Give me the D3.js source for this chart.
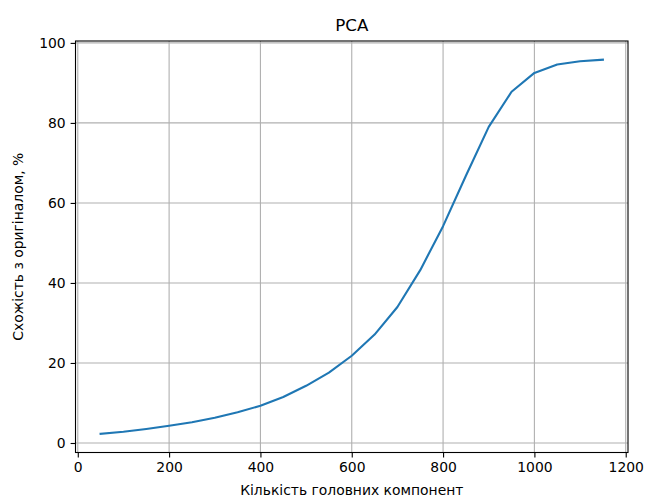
<!DOCTYPE html>
<html>
<head>
<meta charset="utf-8">
<script src="https://cdn.jsdelivr.net/npm/d3@7"></script>
<style>
  body { margin: 0; background: #fff; }
  text { font-family: "DejaVu Sans", sans-serif; fill: #000; }
</style>
</head>
<body>
<script>
// number of principal components vs similarity to original (%)
var components = [50, 100, 150, 200, 250, 300, 350, 400, 450, 500, 550, 600,
                  650, 700, 750, 800, 850, 900, 950, 1000, 1050, 1100, 1150];
var similarity = [2.3, 2.8, 3.5, 4.3, 5.2, 6.3, 7.7, 9.3, 11.5, 14.3, 17.6, 21.8,
                  27.1, 34.0, 43.2, 54.2, 66.8, 79.0, 87.8, 92.5, 94.6, 95.4, 95.8];
var xTicks = [0, 200, 400, 600, 800, 1000, 1200];
var yTicks = [0, 20, 40, 60, 80, 100];

// note: "top" is taken by window.top, so plot edges get their own names
var w = 646, h = 498,
	pLeft = 75.5, pRight = 628, pTop = 41, pBottom = 452.5;

var data = components.map(function(c, i) { return { x: c, y: similarity[i] }; });

// matplotlib style 5% margins
function padded(ext) {
	var m = (ext[1] - ext[0]) * 0.05;
	return [ext[0] - m, ext[1] + m];
}

var x = d3.scaleLinear().domain(padded(d3.extent(components))).range([pLeft, pRight]);
var y = d3.scaleLinear().domain(padded(d3.extent(similarity))).range([pBottom, pTop]);

var svg = d3.select('body').append('svg')
	.attr('width', w)
	.attr('height', h);

// grid
svg.append('g').selectAll('line').data(xTicks).enter().append('line')
	.attr('x1', function(d) { return x(d); }).attr('x2', function(d) { return x(d); })
	.attr('y1', pTop).attr('y2', pBottom)
	.attr('stroke', '#b0b0b0').attr('stroke-width', 1.1);
svg.append('g').selectAll('line').data(yTicks).enter().append('line')
	.attr('y1', function(d) { return y(d); }).attr('y2', function(d) { return y(d); })
	.attr('x1', pLeft).attr('x2', pRight)
	.attr('stroke', '#b0b0b0').attr('stroke-width', 1.1);

// the curve
svg.append('path')
	.datum(data)
	.attr('fill', 'none')
	.attr('stroke', '#1f77b4')
	.attr('stroke-width', 2.1)
	.attr('stroke-linejoin', 'round')
	.attr('stroke-linecap', 'square')
	.attr('d', d3.line().x(function(d) { return x(d.x); }).y(function(d) { return y(d.y); }));

// axes
var xAxis = svg.append('g')
	.attr('transform', 'translate(0,' + pBottom + ')')
	.call(d3.axisBottom(x).tickValues(xTicks).tickFormat(d3.format('d'))
		.tickSize(4.9).tickPadding(4.9).tickSizeOuter(0));
var yAxis = svg.append('g')
	.attr('transform', 'translate(' + pLeft + ',0)')
	.call(d3.axisLeft(y).tickValues(yTicks).tickFormat(d3.format('d'))
		.tickSize(4.9).tickPadding(4.9).tickSizeOuter(0));

[xAxis, yAxis].forEach(function(g) {
	g.select('.domain').remove();
	g.selectAll('.tick line').attr('stroke', '#000').attr('stroke-width', 1.1);
	g.selectAll('.tick text').attr('font-size', '13.9px').attr('font-family', '"DejaVu Sans", sans-serif');
});

// spines
svg.append('rect')
	.attr('x', pLeft).attr('y', pTop)
	.attr('width', pRight - pLeft).attr('height', pBottom - pTop)
	.attr('fill', 'none').attr('stroke', '#000').attr('stroke-width', 1.1);

// labels
svg.append('text')
	.attr('x', (pLeft + pRight) / 2).attr('y', 31)
	.attr('text-anchor', 'middle').attr('font-size', '16.7px')
	.text('PCA');

svg.append('text')
	.attr('x', (pLeft + pRight) / 2).attr('y', 495)
	.attr('text-anchor', 'middle').attr('font-size', '13.9px')
	.text('Кількість головних компонент');

svg.append('text')
	.attr('transform', 'translate(23,' + ((pTop + pBottom) / 2) + ')rotate(-90)')
	.attr('text-anchor', 'middle').attr('font-size', '13.9px')
	.text('Схожість з оригіналом, %');
</script>
</body>
</html>
